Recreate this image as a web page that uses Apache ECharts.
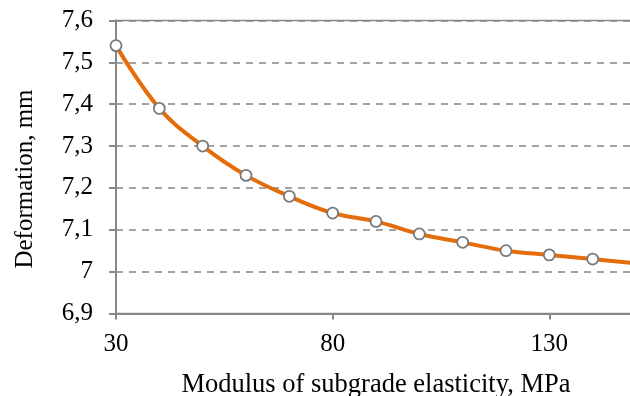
<!DOCTYPE html>
<html>
<head>
<meta charset="utf-8">
<script src="https://cdn.jsdelivr.net/npm/echarts@6/dist/echarts.min.js"></script>
<style>
  html, body { margin: 0; padding: 0; background: #fff; }
  #chart { width: 630px; height: 396px; }
</style>
</head>
<body>
<div id="chart"></div>
<script>
// Subgrade modulus (MPa) and resulting deformation (mm)
var modulus = [30, 40, 50, 60, 70, 80, 90, 100, 110, 120, 130, 140, 150];
var deformation = [7.54, 7.39, 7.30, 7.23, 7.18, 7.14, 7.12, 7.09, 7.07, 7.05, 7.04, 7.03, 7.02];
var xTitle = 'Modulus of subgrade elasticity, MPa';
var yTitle = 'Deformation, mm';

var FONT = '"Liberation Serif", "Times New Roman", serif';
var AXIS_GRAY = '#878787';

function decimalComma(v) {
  return String(Math.round(v * 10) / 10).replace('.', ',');
}

var chart = echarts.init(document.getElementById('chart'), null, { renderer: 'canvas' });

chart.setOption({
  animation: false,
  backgroundColor: '#ffffff',
  grid: {
    left: 116, right: -6, top: 20.5, bottom: 82.5,
    containLabel: false,
    outerBoundsMode: 'none',
    show: true, borderColor: AXIS_GRAY, borderWidth: 1.5, backgroundColor: 'transparent'
  },
  xAxis: {
    type: 'value',
    min: 30, max: 150, interval: 50,
    axisLine: { lineStyle: { color: AXIS_GRAY, width: 2 } },
    axisTick: { show: true, length: 6, inside: false, lineStyle: { color: AXIS_GRAY, width: 2 } },
    axisLabel: {
      showMaxLabel: false,
      margin: 18,
      color: '#000', fontFamily: FONT, fontSize: 25
    },
    splitLine: { show: false }
  },
  yAxis: {
    type: 'value',
    min: 6.9, max: 7.6, interval: 0.1,
    axisLine: { show: true, lineStyle: { color: AXIS_GRAY, width: 2 } },
    axisTick: { show: true, length: 7, inside: false, lineStyle: { color: AXIS_GRAY, width: 2 } },
    axisLabel: {
      margin: 23,
      color: '#000', fontFamily: FONT, fontSize: 25,
      formatter: decimalComma
    },
    splitLine: { show: true, lineStyle: { color: AXIS_GRAY, width: 1.5, type: [7, 6] } }
  },
  graphic: [
    {
      type: 'text', x: 376, y: 385,
      style: {
        text: xTitle, x: 0, y: 0,
        textAlign: 'center', textVerticalAlign: 'middle',
        fill: '#000', font: '26.5px ' + FONT
      }
    },
    {
      type: 'text', x: 25, y: 179, rotation: Math.PI / 2,
      style: {
        text: yTitle, x: 0, y: 0,
        textAlign: 'center', textVerticalAlign: 'middle',
        fill: '#000', font: '25px ' + FONT
      }
    }
  ],
  series: [{
    type: 'line',
    data: modulus.map(function (m, i) { return [m, deformation[i]]; }),
    smooth: 0.4,
    symbol: 'circle',
    symbolSize: 11,
    showAllSymbol: true,
    clip: false,
    lineStyle: { color: '#E46C0A', width: 4 },
    itemStyle: { color: '#ffffff', borderColor: '#7a7a7a', borderWidth: 1.8 },
    z: 5
  }]
});
</script>
</body>
</html>
